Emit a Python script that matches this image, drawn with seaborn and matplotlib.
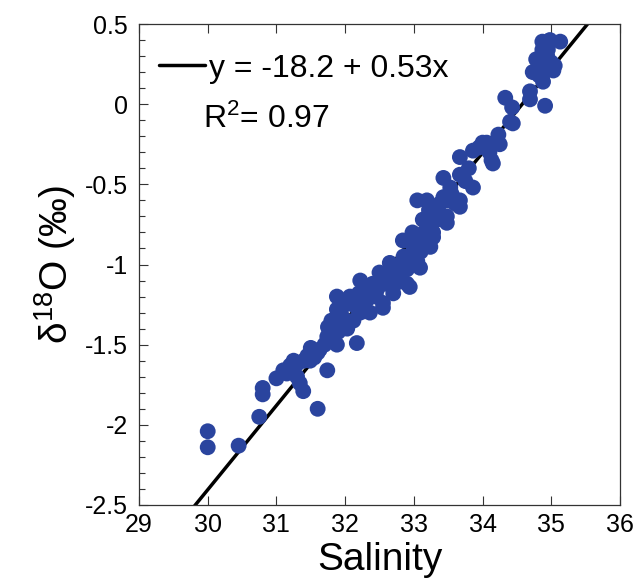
import matplotlib
matplotlib.use("Agg")
import matplotlib.pyplot as plt
import numpy as np
import pandas as pd
import seaborn as sns
from matplotlib.ticker import MultipleLocator, FormatStrFormatter
from matplotlib.lines import Line2D

# Surface-water samples: salinity and oxygen-isotope ratio
salinity = [
    30.00, 30.00, 30.45, 30.75, 30.80, 30.80, 31.00, 31.15, 31.20, 31.24,
    31.30, 31.34, 31.39, 31.30, 31.40, 31.49, 31.45, 31.55, 31.60, 31.63,
    31.74, 31.74, 31.70, 31.88, 31.75, 31.80, 31.88, 31.95, 31.88, 32.00,
    32.03, 32.07, 32.12, 32.17, 32.22, 32.22, 32.20, 32.30, 32.32, 32.36,
    32.40, 32.46, 32.55, 32.55, 32.60, 32.65, 32.70, 32.70, 32.76, 32.80,
    32.84, 32.84, 32.90, 32.90, 32.94, 32.94, 33.00, 33.05, 33.05, 33.09,
    33.09, 33.13, 33.15, 33.19, 33.19, 33.24, 33.28, 33.28, 33.34, 33.30,
    33.43, 33.43, 33.48, 33.48, 33.53, 33.60, 33.67, 33.67, 33.67, 33.67,
    33.75, 33.86, 33.86, 33.95, 34.00, 34.06, 34.13, 34.15, 34.23, 34.25,
    34.33, 34.40, 34.43, 34.44, 34.69, 34.69, 34.73, 34.84, 34.87, 34.87,
    34.88, 34.88, 34.91, 34.94, 34.98, 35.00, 35.03, 35.13,
    32.50, 32.62, 32.98, 33.20, 33.35, 32.10, 31.90, 31.60, 33.55, 33.10,
    31.10, 31.25, 31.50, 31.82, 31.98, 32.15, 32.28, 32.45, 32.58, 32.72,
    32.85, 32.95, 33.12, 33.22, 33.38, 33.50, 33.80, 34.10, 34.78, 34.95,
    34.82, 35.05,
]
d18o = [
    -2.04, -2.14, -2.13, -1.95, -1.77, -1.81, -1.71, -1.68, -1.63, -1.66,
    -1.70, -1.74, -1.79, -1.62, -1.60, -1.60, -1.57, -1.58, -1.90, -1.53,
    -1.66, -1.45, -1.50, -1.50, -1.39, -1.35, -1.28, -1.32, -1.20, -1.25,
    -1.40, -1.20, -1.35, -1.49, -1.10, -1.30, -1.18, -1.15, -1.22, -1.30,
    -1.12, -1.16, -1.24, -1.27, -1.10, -0.99, -1.18, -1.14, -1.08, -1.00,
    -1.02, -0.85, -1.12, -1.03, -1.14, -0.95, -0.90, -0.60, -0.98, -0.89,
    -1.02, -0.72, -0.80, -0.60, -0.72, -0.89, -0.83, -0.80, -0.72, -0.65,
    -0.46, -0.58, -0.74, -0.70, -0.52, -0.62, -0.64, -0.33, -0.44, -0.60,
    -0.48, -0.29, -0.52, -0.27, -0.24, -0.24, -0.35, -0.37, -0.19, -0.25,
    0.04, -0.11, -0.02, -0.12, 0.03, 0.08, 0.20, 0.26, 0.34, 0.39,
    0.19, 0.14, -0.01, 0.30, 0.40, 0.26, 0.21, 0.39,
    -1.05, -1.05, -0.80, -0.78, -0.68, -1.22, -1.42, -1.55, -0.56, -0.92,
    -1.66, -1.60, -1.52, -1.43, -1.36, -1.26, -1.20, -1.20, -1.12, -1.05,
    -0.95, -0.86, -0.85, -0.66, -0.62, -0.60, -0.40, -0.30, 0.28, 0.34,
    0.18, 0.24,
]

# Linear fit reported on the chart
intercept = -18.17
slope = 0.5255
r_squared = 0.97

x_ticks = [29, 30, 31, 32, 33, 34, 35, 36]

df = pd.DataFrame({"Salinity": salinity, "d18O": d18o})

sns.set_style("ticks")
plt.rcParams["font.family"] = ["Liberation Sans", "DejaVu Sans"]
plt.rcParams["mathtext.fontset"] = "custom"
plt.rcParams["mathtext.rm"] = "Liberation Sans"
plt.rcParams["mathtext.it"] = "Liberation Sans:italic"
plt.rcParams["mathtext.bf"] = "Liberation Sans:bold"
plt.rcParams["axes.unicode_minus"] = False
plt.rcParams["text.color"] = "black"
plt.rcParams["axes.labelcolor"] = "black"
plt.rcParams["xtick.color"] = "black"
plt.rcParams["ytick.color"] = "black"

fig = plt.figure(figsize=(6.34, 5.88), dpi=100)
ax = fig.add_axes([139 / 634, 1 - 505 / 588, (620 - 139) / 634, (505 - 24) / 588])

fit_x = np.array([x_ticks[0], x_ticks[-1]], dtype=float)
fit_y = intercept + slope * fit_x
ax.plot(fit_x, fit_y, color="black", lw=2.5, zorder=2, solid_capstyle="butt")

sns.scatterplot(data=df, x="Salinity", y="d18O", ax=ax, s=130,
                color="#2a449e", edgecolor="none", linewidth=0, zorder=3,
                legend=False)

ax.set_xlim(29, 36)
ax.set_ylim(-2.5, 0.5)
ax.set_xticks(x_ticks)
ax.xaxis.set_major_formatter(FormatStrFormatter("%g"))
ax.yaxis.set_major_locator(MultipleLocator(0.5))
ax.yaxis.set_minor_locator(MultipleLocator(0.1))
ax.yaxis.set_major_formatter(FormatStrFormatter("%g"))

ax.tick_params(axis="x", which="major", direction="in", top=True, bottom=True,
               length=6.5, width=0.8, labelsize=18, pad=6, color="#333333")
ax.tick_params(axis="y", which="major", direction="in", left=True, right=False,
               length=6.5, width=0.8, labelsize=18, pad=8, color="#333333")
ax.tick_params(axis="y", which="minor", direction="in", left=True, right=False,
               length=4.3, width=0.8, color="#333333")
for sp in ax.spines.values():
    sp.set_linewidth(0.9)
    sp.set_color("#333333")

ax.set_xlabel("Salinity", fontsize=28, labelpad=3)
ax.set_ylabel(r"δ$^{18}$O (‰)", fontsize=28, labelpad=5)

handle = Line2D([], [], color="black", lw=2.5)
ax.legend([handle], [f"y = {intercept:.1f} + {slope:.2f}x"], loc="upper left",
          frameon=False, fontsize=23, handlelength=1.45, handletextpad=0.1,
          borderaxespad=0.0, bbox_to_anchor=(0.015, 0.965))
fig.text(203 / 634, 1 - 119 / 588, f"R$^2$= {r_squared:.2f}", fontsize=23,
         va="center", ha="left")

fig.savefig("out.png", dpi=100)
